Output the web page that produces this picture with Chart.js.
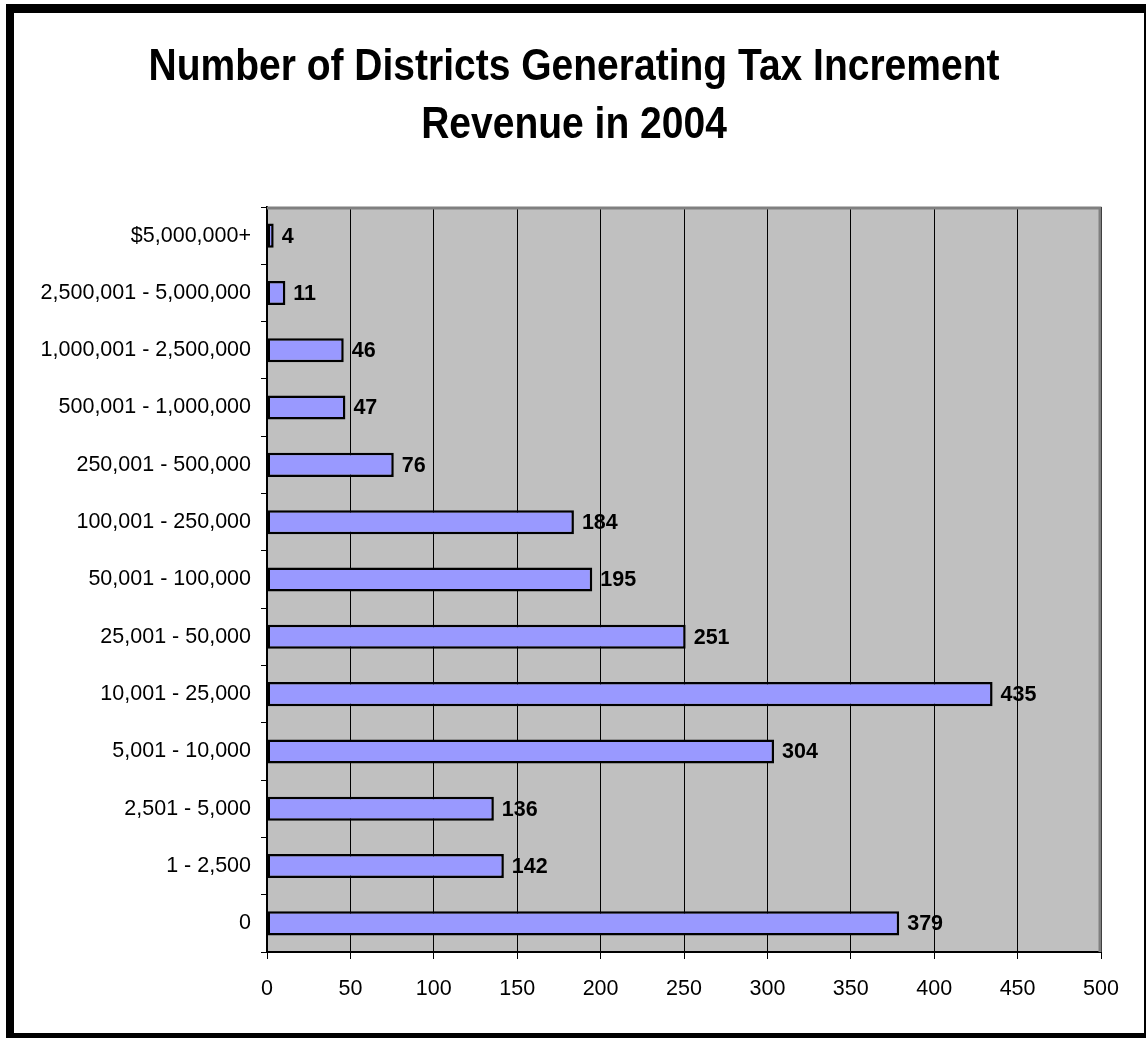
<!DOCTYPE html>
<html>
<head>
<meta charset="utf-8">
<script src="https://cdn.jsdelivr.net/npm/chart.js@4/dist/chart.umd.min.js"></script>
<style>
  html, body { margin: 0; padding: 0; background: #fff; overflow: hidden; }
  canvas { display: block; }
</style>
</head>
<body>
<canvas id="c" width="1146" height="1038"></canvas>
<script>
// ---- data ----
const titleLines = ["Number of Districts Generating Tax Increment", "Revenue in 2004"];
const categories = [
  "$5,000,000+",
  "2,500,001 - 5,000,000",
  "1,000,001 - 2,500,000",
  "500,001 - 1,000,000",
  "250,001 - 500,000",
  "100,001 - 250,000",
  "50,001 - 100,000",
  "25,001 - 50,000",
  "10,001 - 25,000",
  "5,001 - 10,000",
  "2,501 - 5,000",
  "1 - 2,500",
  "0"
];
const districtCounts = [4, 11, 46, 47, 76, 184, 195, 251, 435, 304, 136, 142, 379];
const xTickMax = 500;
const xTickStep = 50;

const FONT = "'Liberation Sans', Arial, Helvetica, sans-serif";

const framePlugin = {
  id: 'frame',
  beforeDraw(chart) {
    const ctx = chart.ctx;
    const a = chart.chartArea;
    ctx.save();
    ctx.fillStyle = '#ffffff';
    ctx.fillRect(0, 0, chart.width, chart.height);
    // outer black frame
    ctx.fillStyle = '#000000';
    ctx.fillRect(6, 4, 1146, 9);
    ctx.fillRect(6, 4, 8, 1034);
    ctx.fillRect(6, 1033, 1146, 6);
    ctx.fillRect(1144, 4, 4, 1034);
    // plot area
    ctx.fillStyle = '#c0c0c0';
    ctx.fillRect(a.left, a.top, a.right - a.left, a.bottom - a.top);
    // title (vertically stretched like the original)
    ctx.fillStyle = '#000000';
    ctx.font = "bold 39px " + FONT;
    ctx.textAlign = 'center';
    ctx.textBaseline = 'alphabetic';
    const baselines = [80, 138];
    titleLines.forEach((t, i) => {
      ctx.save();
      ctx.translate(574, baselines[i]);
      ctx.scale(1, 1.13);
      ctx.fillText(t, 0, 0);
      ctx.restore();
    });
    ctx.restore();
  },
  beforeDatasetsDraw(chart) {
    const ctx = chart.ctx;
    const a = chart.chartArea;
    ctx.save();
    ctx.strokeStyle = '#808080';
    ctx.lineWidth = 3;
    ctx.beginPath();
    ctx.moveTo(a.left, a.top + 1);
    ctx.lineTo(a.right - 1, a.top + 1);
    ctx.lineTo(a.right - 1, a.bottom);
    ctx.stroke();
    ctx.restore();
  },
  afterDatasetsDraw(chart) {
    const ctx = chart.ctx;
    const meta = chart.getDatasetMeta(0);
    ctx.save();
    ctx.fillStyle = '#000000';
    ctx.font = "bold 21.5px " + FONT;
    ctx.textAlign = 'left';
    ctx.textBaseline = 'middle';
    meta.data.forEach((bar, i) => {
      ctx.fillText(String(districtCounts[i]), bar.x + 8, bar.y + 1);
    });
    ctx.restore();
  }
};

new Chart(document.getElementById('c'), {
  type: 'bar',
  data: {
    labels: categories,
    datasets: [{
      data: districtCounts,
      backgroundColor: '#9999ff',
      borderColor: '#000000',
      borderWidth: 2.5,
      borderSkipped: false,
      categoryPercentage: 1.0,
      barPercentage: 0.42
    }]
  },
  options: {
    indexAxis: 'y',
    responsive: false,
    animation: false,
    devicePixelRatio: 1,
    layout: { padding: { top: 207, right: 45, left: 14, bottom: 40 } },
    plugins: {
      legend: { display: false },
      title: { display: false },
      tooltip: { enabled: false }
    },
    scales: {
      x: {
        min: 0,
        max: xTickMax,
        ticks: {
          stepSize: xTickStep,
          color: '#000000',
          font: { family: FONT, size: 21.5 },
          padding: 17
        },
        grid: {
          color: '#000000',
          lineWidth: 1,
          drawTicks: true,
          tickLength: 7,
          tickColor: '#000000'
        },
        border: { display: true, color: '#000000', width: 2 },
        afterFit(scale) { scale.height = 1038 - 40 - 952; }
      },
      y: {
        ticks: {
          color: '#000000',
          font: { family: FONT, size: 21.5 },
          padding: 10
        },
        grid: {
          offset: true,
          drawOnChartArea: false,
          drawTicks: true,
          tickLength: 6,
          color: '#000000',
          tickColor: '#000000'
        },
        border: { display: true, color: '#000000', width: 2 },
        afterFit(scale) { scale.width = 267 - 14; }
      }
    }
  },
  plugins: [framePlugin]
});
</script>
</body>
</html>
